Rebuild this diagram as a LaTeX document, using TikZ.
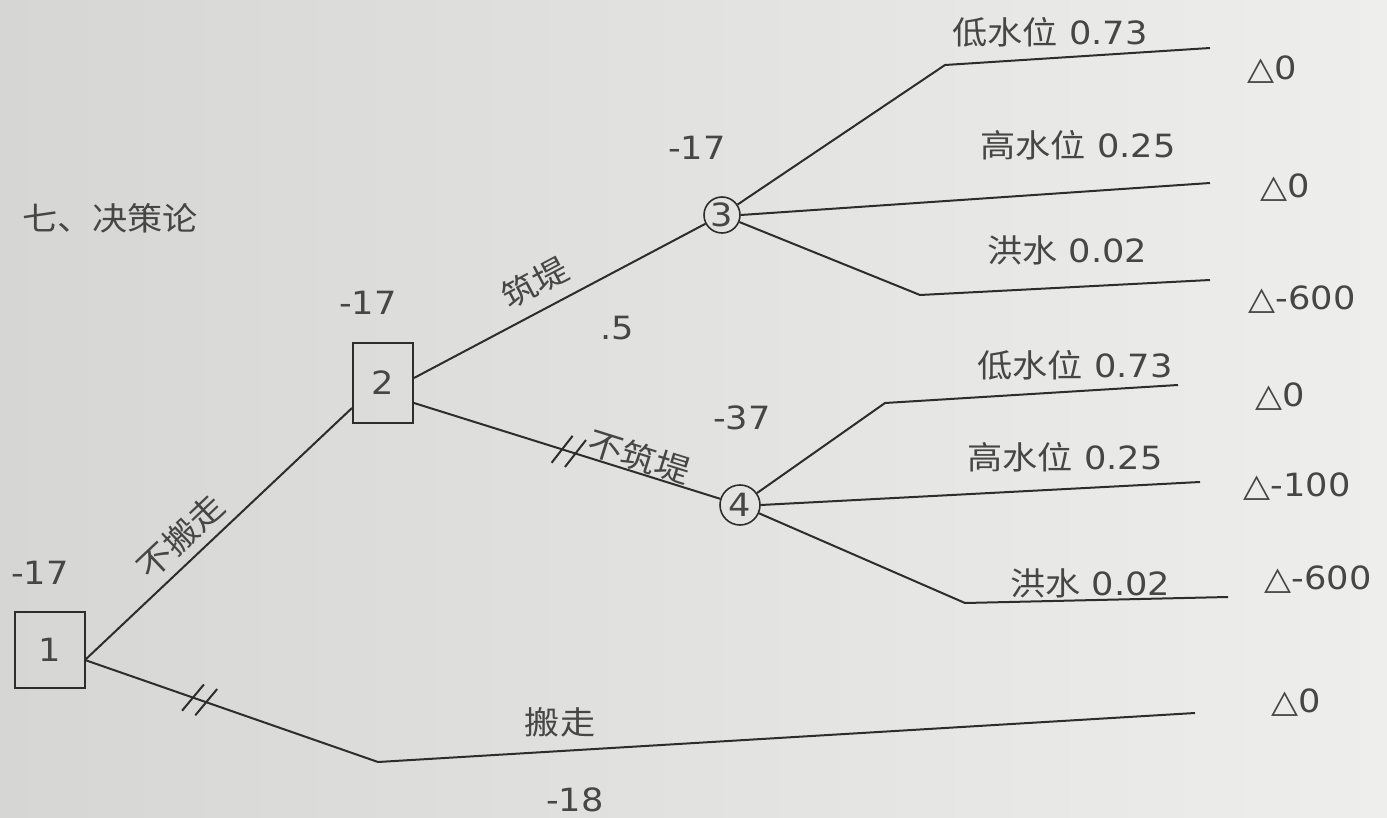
\documentclass[tikz,border=0pt]{standalone}
\usepackage{fontspec}
\setmainfont{DejaVu Sans}[FakeStretch=1.1]
\newfontfamily\cjk{Noto Sans CJK SC}[FakeStretch=1.1]
\usetikzlibrary{decorations.markings}
\definecolor{linec}{RGB}{45,45,45}
\definecolor{txtc}{RGB}{70,70,70}
\definecolor{bgl}{RGB}{214,214,212}
\definecolor{bgr}{RGB}{238,238,236}
\tikzset{
  lbl/.style={text=txtc, font=\fontsize{16}{19}\selectfont, inner sep=1pt},
  decbox/.style={draw=linec, line width=1pt, minimum width=35pt, minimum height=38pt, inner sep=0pt, text=txtc, font=\fontsize{16}{19}\selectfont},
  chance/.style={circle, draw=linec, line width=0.8pt, minimum size=18pt, inner sep=0pt, text=txtc, font=\fontsize{16}{19}\selectfont},
  branch/.style={draw=linec, line width=1pt},
  cutmark/.style={postaction={decorate, decoration={markings, mark=at position #1 with {
      \draw[linec, line width=1pt] (-4pt,-8pt) -- (2pt,8pt);
      \draw[linec, line width=1pt] (3pt,-8pt) -- (9pt,8pt);}}}}
}
\begin{document}
\begin{tikzpicture}[x=0.5pt,y=-0.5pt]
\shade[left color=bgl, right color=bgr] (0,0) rectangle (1387,818);
\useasboundingbox (0,0) rectangle (1387,818);

\node[lbl] (title) at (110,218) {\cjk 七、决策论};

% decision nodes
\node[decbox] (b1) at (50,650) {1};
\node[lbl] (v1) at (40,573) {-17};
\node[decbox, minimum width=30pt, minimum height=40pt] (b2) at (383,383) {2};
\node[lbl] (v2) at (368,303) {-17};

% chance nodes
\node[chance] (c3) at (722,215) {3};
\node[lbl] (v3) at (697,148) {-17};
\node[chance, minimum size=20pt] (c4) at (740,505) {4};
\node[lbl] (v4) at (742,418) {-37};
\node[lbl] (p5) at (617,328) {.5};

% bend / end points
\coordinate (s1) at (85,660);
\coordinate (k1) at (378,762);
\coordinate (e1) at (1195,713);

\coordinate (k31) at (945,65);   \coordinate (e31) at (1210,48);
\coordinate (e32) at (1210,183);
\coordinate (k33) at (920,295);  \coordinate (e33) at (1210,280);
\coordinate (k41) at (885,403);  \coordinate (e41) at (1178,385);
\coordinate (e42) at (1200,482);
\coordinate (k43) at (965,603);  \coordinate (e43) at (1228,597);

% connectors
\draw[branch] (s1) -- node[lbl, sloped, above=3pt, pos=0.42] {\cjk 不搬走} ([yshift=-12.5pt]b2.west);
\draw[branch, cutmark=0.375] (s1) -- (k1);
\draw[branch] (k1) -- (e1);
\draw[branch] ([yshift=2.5pt]b2.east) -- node[lbl, sloped, above=5pt, pos=0.46] {\cjk 筑堤} (c3);
\draw[branch, cutmark=0.49] ([yshift=-10pt]b2.east) -- node[lbl, sloped, above, pos=0.72, inner sep=0pt] {\cjk 不筑堤} (c4);

\draw[branch] (c3) -- (k31) -- (e31);
\draw[branch] (c3.east) -- (e32);
\draw[branch] (c3) -- (k33) -- (e33);
\draw[branch] (c4) -- (k41) -- (e41);
\draw[branch] (c4.east) -- (e42);
\draw[branch] (c4) -- (k43) -- (e43);

% branch labels
\node[lbl] (l31) at (1050,32) {{\cjk 低水位} 0.73};
\node[lbl] (l32) at (1078,145) {{\cjk 高水位} 0.25};
\node[lbl] (l33) at (1067,250) {{\cjk 洪水} 0.02};
\node[lbl] (l41) at (1075,365) {{\cjk 低水位} 0.73};
\node[lbl] (l42) at (1065,457) {{\cjk 高水位} 0.25};
\node[lbl] (l43) at (1090,583) {{\cjk 洪水} 0.02};
\node[lbl] (l1) at (560,722) {\cjk 搬走};
\node[lbl] (v18) at (575,800) {-18};

% payoffs
\node[lbl] (r31) at (1272,70) {△0};
\node[lbl] (r32) at (1285,188) {△0};
\node[lbl] (r33) at (1302,300) {△-600};
\node[lbl] (r41) at (1280,397) {△0};
\node[lbl] (r42) at (1297,487) {△-100};
\node[lbl] (r43) at (1318,580) {△-600};
\node[lbl] (r1) at (1296,703) {△0};
\end{tikzpicture}
\end{document}
